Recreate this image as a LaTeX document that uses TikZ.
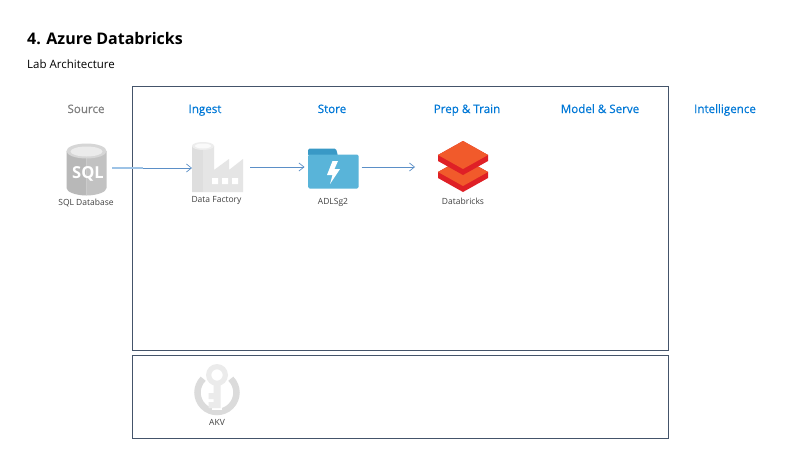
\documentclass[tikz,border=0pt]{standalone}
\usepackage{fontspec}
\setmainfont{Open Sans}
\newfontfamily\headf[FakeBold=0.35]{Open Sans}
\usetikzlibrary{arrows.meta}
\definecolor{framec}{HTML}{44546A}
\definecolor{headblue}{HTML}{0078D7}
\definecolor{headgray}{HTML}{7F7F7F}
\definecolor{arrowc}{HTML}{5B8FC7}
\definecolor{palearrow}{HTML}{9DC3E6}
\definecolor{lab}{HTML}{404040}
\definecolor{adlsf}{HTML}{59B4D9}
\definecolor{adlsd}{HTML}{3999C6}
\definecolor{dbo}{HTML}{F15A2B}
\definecolor{dbr}{HTML}{DF2026}
\tikzset{
  x=1pt,y=-1pt,
  frame/.style={draw=framec,line width=0.9pt,fill=none,inner sep=0pt,outer sep=0pt,anchor=north west},
  head/.style={font=\headf\fontsize{11.6}{14}\selectfont,text=headblue,inner sep=0pt,anchor=base},
  iconlab/.style={font=\fontsize{8.5}{10}\selectfont,text=lab,inner sep=0pt,anchor=center},
  iconbox/.style={inner sep=0pt,outer sep=0pt,minimum width=#1,minimum height=50pt},
  flow/.style={draw=arrowc,line width=0.8pt,-{Straight Barb[length=5pt,width=8pt,line width=0.7pt]}},
}
\begin{document}
\begin{tikzpicture}
\useasboundingbox (0,0) rectangle (800,450);
\fill[white] (0,0) rectangle (800,450);
\node[anchor=west,inner sep=0pt,font=\fontsize{16}{20}\selectfont\bfseries] (title) at (27,38.7) {4. Azure Databricks};
\node[anchor=west,inner sep=0pt,font=\fontsize{11.5}{13}\selectfont] (sub) at (27,64.5) {Lab Architecture};
\node[frame,minimum width=536pt,minimum height=264pt] (main) at (132.5,86.5) {};
\node[frame,minimum width=536pt,minimum height=83pt] (sec) at (132.5,355.5) {};
\node[head,text=headgray] (h0) at (86,113) {Source};
\node[head] (h1) at (205,113) {Ingest};
\node[head] (h2) at (332,113) {Store};
\node[head] (h3) at (467,113) {Prep \& Train};
\node[head] (h4) at (600,113) {Model \& Serve};
\node[head] (h5) at (725,113) {Intelligence};
% SQL
\fill[black!28] (66.5,151) -- (66.5,188) .. controls (66.5,192) and (76,195.5) .. (86.5,195.5) -- (86.5,151) -- cycle;
\fill[black!24] (86.5,151) -- (86.5,195.5) .. controls (97,195.5) and (106.5,192) .. (106.5,188) -- (106.5,151) -- cycle;
\fill[black!16] (86.5,151) ellipse (20 and 7.5);
\fill[black!8] (86.5,151.5) ellipse (16 and 5);
\node[font=\fontsize{16.5}{15}\selectfont\bfseries,text=white,inner sep=0pt] at (88,173.5) {SQL};
\node[iconbox=40pt,minimum height=52pt] (sql) at (86,169) {};
\node[iconlab] (sqll) at (86,203) {SQL Database};
% DF
\fill[black!10] (192,146) -- (192,192) -- (243,192) -- (243,159) -- (229,170) -- (229,159) -- (214,170) -- (214,146) -- cycle;
\fill[black!13] (192,146) rectangle (203,192);
\fill[black!7] (203,146) ellipse (11 and 4);
\fill[black!2] (203,146) ellipse (8 and 2.5);
\fill[white] (212,178) rectangle (218,184) (222,178) rectangle (228,184) (232,178) rectangle (238,184);
\node[iconbox=51pt] (df) at (217.5,167) {};
\node[iconlab] (dfl) at (216.5,200.5) {Data Factory};
% ADLS
\fill[adlsd,rounded corners=1.5pt] (308,156) -- (308,148.5) -- (336,148.5) -- (338,156) -- cycle;
\fill[adlsf,rounded corners=1.5pt] (308,154.5) rectangle (358.5,188.5);
\fill[white] (332.5,161) -- (338,161) -- (334.5,169) -- (340,169) -- (330,184) -- (332.5,175) -- (327,175) -- cycle;
\node[iconbox=57pt] (adls) at (333,167) {};
\node[iconlab] (adlsl) at (333,202.5) {ADLSg2};
% Databricks
\fill[dbr] (438,172) -- (463,158) -- (488,172) -- (488,178) -- (463,192) -- (438,178) -- cycle;
\fill[dbo] (438,172) -- (463,158) -- (488,172) -- (463,186) -- cycle;
\fill[dbr] (438,155) -- (463,141) -- (488,155) -- (488,161) -- (463,175) -- (438,161) -- cycle;
\fill[dbo] (438,155) -- (463,141) -- (488,155) -- (463,169) -- cycle;
\node[iconbox=50pt] (dbx) at (463,167) {};
\node[iconlab] (dbxl) at (463,201) {Databricks};
% AKV
\draw[black!14,line width=6.5pt] (203.2,378.7) arc[start angle=225,end angle=-45,radius=19.5];
\fill[white] (217,375) circle (12.5);
\fill[white] (212,385) rectangle (222,409.5);
\fill[black!8,even odd rule] (217,375) circle (11) (217,375) circle (5.7);
\fill[black!8] (213.5,385) rectangle (220.5,408) (208.5,393) rectangle (214,399) (208.5,402) rectangle (214,408);
\node[iconbox=46pt] (akv) at (217,389) {};
\node[iconlab] (akvl) at (217,422) {AKV};
% connectors
\coordinate (bend) at (143,168);
\draw[flow,shorten <=6pt] (sql.east |- bend) -- (df.west |- bend);
\draw[palearrow,line width=1.4pt,shorten <=6pt] (sql.east |- bend) -- (bend);
\draw[flow,shorten <=7pt] (df.east) -- (adls.west);
\draw[flow,shorten >=23pt] (adls.east) -- (dbx.west);
\end{tikzpicture}
\end{document}
